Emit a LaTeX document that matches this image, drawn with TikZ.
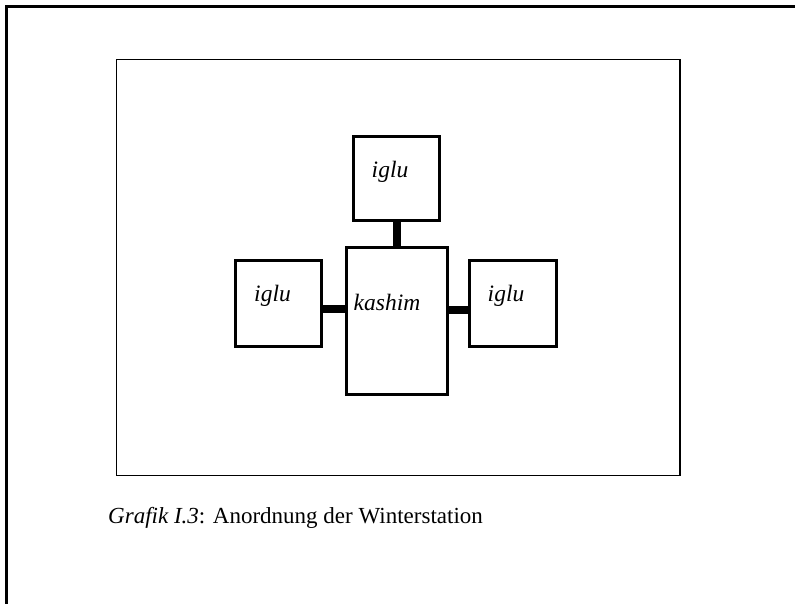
\documentclass[tikz,border=0pt]{standalone}
\usepackage{fontspec}
\setmainfont{Liberation Serif}
\begin{document}
\begin{tikzpicture}[x=1pt,y=-1pt,
  box/.style={draw,line width=3pt,rectangle,inner sep=0pt,minimum width=#1},
  lbl/.style={font=\fontsize{23.5}{28}\selectfont\itshape,anchor=base,inner sep=0pt},
  link/.style={line width=8pt}]
\useasboundingbox (0,0) rectangle (795,604);
% outer frame (top and left only)
\coordinate (otl) at (6,7);
\coordinate (otr) at (795,7);
\coordinate (obl) at (6,604);
\draw[line width=3pt] (obl) -- (otl) -- (otr);
% inner frame
\node[draw,line width=1.6pt,rectangle,inner sep=0pt,minimum width=563.5pt,minimum height=416pt] (frame) at (398.25,267.5) {};
% boxes
\node[box=86pt,minimum height=84pt] (top) at (396.2,178.3) {};
\node[box=101pt,minimum height=147pt] (kashim) at (396.7,321) {};
\node[box=86pt,minimum height=86pt] (left) at (278.6,303.8) {};
\node[box=87pt,minimum height=86pt] (right) at (513.3,303.8) {};
% connectors
\draw[link] ([xshift=1pt]top.south) -- ([xshift=1pt]top.south |- kashim.north);
\draw[link] ([yshift=-5pt]left.east) -- ([yshift=-5pt]left.east -| kashim.west);
\draw[link] ([yshift=-6pt]right.west) -- ([yshift=-6pt]right.west -| kashim.east);
% labels
\node[lbl] (ttop) at (390,177.3) {iglu};
\node[lbl] (tleft) at (272.5,301.7) {iglu};
\node[lbl] (tkashim) at (387,310.7) {kashim};
\node[lbl] (tright) at (506,301.7) {iglu};
% caption
\node[anchor=base west,inner sep=0pt,font=\fontsize{23}{28}\selectfont] (caption) at (108,523) {\textit{Grafik I.3}: Anordnung der Winterstation};
\end{tikzpicture}
\end{document}
